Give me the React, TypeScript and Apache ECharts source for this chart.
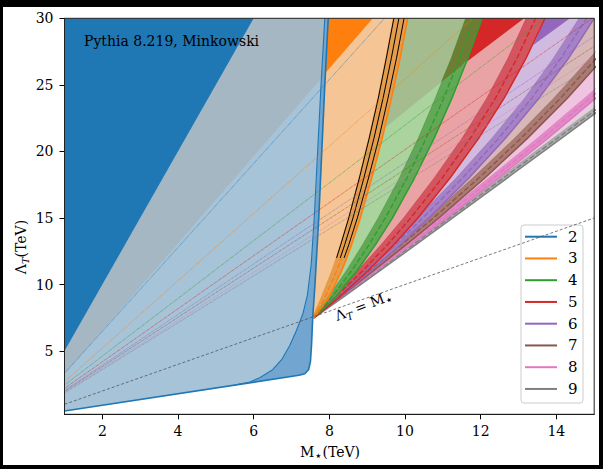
import React, { useEffect, useRef } from "react";
import * as echarts from "echarts";

const F = "'DejaVu Serif', serif";

// ---- labels / ticks ----
const N_LABELS = ["2", "3", "4", "5", "6", "7", "8", "9"];
const TAB = ["#1f77b4", "#ff7f0e", "#2ca02c", "#d62728", "#9467bd", "#8c564b", "#e377c2", "#7f7f7f"];
const X_TICKS = [2, 4, 6, 8, 10, 12, 14];
const Y_TICKS = [5, 10, 15, 20, 25, 30];

// ---- n = 2 region (M*, Lambda_T) ----
const N2_BOTTOM = [[1, 0.5], [5.5, 2.45], [7.2, 3.18]];
const N2_INNER = [[5.5, 2.45], [5.9, 2.68], [6.16, 3.0], [6.5, 3.6], [6.75, 4.4], [6.95, 5.4], [7.13, 6.55], [7.3, 7.8], [7.42, 9.2], [7.52, 11.5], [7.6, 15], [7.69, 20], [7.78, 25], [7.88, 30]];
const N2_OUTER = [[7.2, 3.18], [7.35, 3.3], [7.45, 3.6], [7.5, 4.2], [7.53, 5.5], [7.56, 7.5], [7.62, 10], [7.72, 15], [7.8, 20], [7.88, 25], [7.97, 30]];
const N2_TOP_LEFT = [[1, 5], [1, 30], [6, 30]];
const N2_WEDGE = [[1, 5], [6, 30], [7.9, 30], [7.85, 25.7], [1, 3.27]];

// ---- saturated / overlap patches ----
const N3_TRIANGLE = [[7.9, 25.9], [7.96, 30], [9.15, 30]];
const N4_UPPER = [[9.48, 21.8], [9.64, 24], [9.87, 27], [10.07, 30], [11.6, 30], [11.22, 27], [10.95, 25.2]];
const N4_BAND_UPPER = [[10.95, 25.2], [11.22, 27], [11.6, 30], [12.04, 30], [11.66, 27], [11.5, 26.45]];
const N5_TRIANGLE = [[11.5, 26.45], [11.66, 27], [12.04, 30], [13.15, 30]];
const N6_TRIANGLE = [[13.39, 28], [13.7, 30], [14.36, 30]];

// ---- bands n = 3..9: Lambda levels, central M*, half width ----
const LAM_N3 = [7.5, 9, 11, 12, 13, 15, 18, 21, 24, 27, 30];
const MID_N3 = [7.57, 7.88, 8.19, 8.32, 8.44, 8.66, 8.95, 9.22, 9.46, 9.68, 9.88];
const HW_N3 = [0.02, 0.1, 0.13, 0.14, 0.15, 0.16, 0.17, 0.18, 0.18, 0.19, 0.19];

const LAM_N4 = [7.5, 9, 11, 13, 15, 18, 21, 24, 27, 30];
const MID_N4 = [7.57, 8.05, 8.58, 9.05, 9.48, 10.05, 10.56, 11.02, 11.44, 11.82];
const HW_N4 = [0.02, 0.1, 0.14, 0.17, 0.19, 0.2, 0.21, 0.22, 0.22, 0.22];

const LAM_N5 = [7.5, 9, 11, 13, 15, 18, 21, 24, 27, 30];
const MID_N5 = [7.57, 8.14, 8.87, 9.54, 10.15, 10.98, 11.73, 12.39, 12.96, 13.45];
const HW_N5 = [0.02, 0.1, 0.14, 0.17, 0.19, 0.21, 0.22, 0.23, 0.24, 0.25];

const LAM_N6 = [7.5, 9, 11, 13, 15, 18, 21, 24, 27, 30];
const MID_N6 = [7.57, 8.17, 8.96, 9.74, 10.47, 11.52, 12.48, 13.35, 14.12, 14.8];
const HW_N6 = [0.02, 0.08, 0.12, 0.14, 0.16, 0.17, 0.18, 0.19, 0.2, 0.2];

const LAM_N7 = [7.5, 9, 11, 13, 15, 18, 21, 24, 27, 28];
const MID_N7 = [7.57, 8.19, 9.05, 9.91, 10.75, 11.95, 13.07, 14.11, 15.06, 15.38];
const HW_N7 = [0.02, 0.07, 0.1, 0.12, 0.14, 0.16, 0.17, 0.18, 0.18, 0.18];

const LAM_N8 = [7.5, 9, 11, 13, 15, 18, 21, 24, 26];
const MID_N8 = [7.57, 8.21, 9.13, 10.06, 10.99, 12.34, 13.64, 14.89, 15.7];
const HW_N8 = [0.02, 0.06, 0.09, 0.1, 0.12, 0.13, 0.14, 0.15, 0.15];

const LAM_N9 = [7.5, 9, 11, 13, 15, 18, 21, 24];
const MID_N9 = [7.57, 8.29, 9.25, 10.21, 11.17, 12.6, 14.03, 15.46];
const HW_N9 = [0.02, 0.05, 0.07, 0.08, 0.09, 0.1, 0.11, 0.11];

// ---- dotted reference lines (Lambda at M*=1, end point) ----
const DOT_START = [3.33, 2.7, 2.45, 2.2, 2.05, 1.98, 1.9, 1.85];
const DOT_END = [[9.46, 30], [11.8, 30], [13.7, 30], [14.95, 30], [15, 28.65], [15, 27.9], [15, 27.1], [15, 26.5]];
const DIAGONAL = [[1, 1], [15, 15]];

// ---- styles ----
const BAND_FILL = ["#e39d4c", "#62a857", "#d25560", "#a583c6", "#aa7b73", "#e08ac6", "#adadad"];
const LIGHT_FILL = ["#f5c595", "#aad39d", "#eaa3a5", "#d1badf", "#d7b8b6", "#efc4e0", "#e3d0dc"];

const BANDS = [
  { lam: LAM_N3, mid: MID_N3, hw: HW_N3 },
  { lam: LAM_N4, mid: MID_N4, hw: HW_N4 },
  { lam: LAM_N5, mid: MID_N5, hw: HW_N5 },
  { lam: LAM_N6, mid: MID_N6, hw: HW_N6 },
  { lam: LAM_N7, mid: MID_N7, hw: HW_N7 },
  { lam: LAM_N8, mid: MID_N8, hw: HW_N8 },
  { lam: LAM_N9, mid: MID_N9, hw: HW_N9 },
];

type Pt = number[];
type Band = { lam: number[]; mid: number[]; hw: number[] };

const edge = (b: Band, k: number): Pt[] => b.lam.map((l, i) => [b.mid[i] + k * b.hw[i], l]);

function poly(pts: Pt[], fill: string) {
  return {
    type: "custom",
    coordinateSystem: "cartesian2d",
    silent: true,
    clip: true,
    data: [[pts[0][0], pts[0][1]]],
    renderItem: (_p: any, api: any) => ({
      type: "polygon",
      shape: { points: pts.map((p) => api.coord(p)) },
      style: { fill, stroke: "none" },
    }),
  };
}

function line(pts: Pt[], color: string, width: number, type: any = "solid", opacity = 1) {
  return {
    type: "line",
    data: pts,
    symbol: "none",
    showSymbol: false,
    silent: true,
    clip: true,
    lineStyle: { color, width, type, opacity },
  };
}

function buildOption() {
  const series: any[] = [];
  const n2Upper = N2_OUTER.filter((p) => p[1] >= 7.5);

  // n = 2 light region, wedge, top-left
  series.push(poly([N2_BOTTOM[0], ...N2_INNER, [1, 30]], "#a6c3d8"));
  series.push(poly(N2_WEDGE, "#a5b7c2"));
  series.push(poly(N2_TOP_LEFT, TAB[0]));

  // light regions n = 9 .. 3
  for (let k = BANDS.length - 1; k >= 0; k--) {
    const le = edge(BANDS[k], -1);
    const last = le[le.length - 1];
    const pts: Pt[] = [...n2Upper];
    if (last[1] < 30) pts.push([16, 30], [16, last[1]]);
    pts.push(...le.slice().reverse());
    series.push(poly(pts, LIGHT_FILL[k]));
  }

  // saturated patches
  series.push(poly(N3_TRIANGLE, TAB[1]));
  series.push(poly(N4_UPPER, "#a4bc8e"));
  series.push(poly(N5_TRIANGLE, TAB[3]));
  series.push(poly(N6_TRIANGLE, TAB[4]));

  // bands n = 9 .. 3
  for (let k = BANDS.length - 1; k >= 0; k--) {
    const b = BANDS[k];
    series.push(poly([...edge(b, -1), ...edge(b, 1).reverse()], BAND_FILL[k]));
  }
  series.push(poly(N4_BAND_UPPER, "#6f7c33"));

  // n = 2 band
  series.push(poly([...N2_INNER, ...N2_OUTER.slice().reverse()], "#72a5cf"));

  // band lines
  for (let k = BANDS.length - 1; k >= 0; k--) {
    const b = BANDS[k];
    const col = TAB[k + 1];
    series.push(line(edge(b, 1), col, 1.5));
    series.push(line(edge(b, -1), col, 0.6, "solid", 0.7));
    const mid = edge(b, 0);
    series.push(line(k === 0 ? mid.slice(0, 4) : mid, col, 1.4, [5.5, 2.4]));
  }
  // n = 3 black contour lines
  [-0.92, -0.22, 0.5].forEach((f) => {
    series.push(line(edge(BANDS[0], f).slice(3), "#000", 1));
  });

  // n = 2 outline
  series.push(line([N2_BOTTOM[0], ...N2_OUTER], TAB[0], 1.6));
  series.push(line(N2_INNER, TAB[0], 1.1));

  // dotted lines
  DOT_START.forEach((y0, i) => {
    series.push(line([[1, y0], DOT_END[i]], TAB[i], 0.8, "dotted", 0.95));
  });
  series.push(line(DIAGONAL, "#555", 0.8, [3, 2]));

  const axisText = { fontFamily: F, fontSize: 14, color: "#000" };

  const legendEls: any[] = [];
  N_LABELS.forEach((lab, i) => {
    const y = 236.7 + i * 21.75;
    legendEls.push({ type: "line", shape: { x1: 525, y1: y, x2: 557, y2: y }, style: { stroke: TAB[i], lineWidth: 2 } });
    legendEls.push({ type: "text", x: 568, y, style: { text: lab, fontSize: 15, fontFamily: F, fill: "#000", verticalAlign: "middle" } });
  });

  const richA = { fontSize: 14, fontFamily: F, fill: "#000", verticalAlign: "top", lineHeight: 16 };
  const richT = { fontSize: 10, fontFamily: F, fontStyle: "italic", fill: "#000", verticalAlign: "bottom", lineHeight: 16 };
  const richS = { fontSize: 13, fontFamily: "'DejaVu Sans', sans-serif", fill: "#000", verticalAlign: "bottom", lineHeight: 17 };

  return {
    animation: false,
    grid: { left: 64.5, top: 18.3, width: 529.7, height: 396, containLabel: false },
    xAxis: {
      type: "value",
      min: 1,
      max: 15,
      axisLine: { show: true, onZero: false, lineStyle: { color: "#000", width: 1 } },
      axisTick: { show: true, customValues: X_TICKS, length: 5, lineStyle: { color: "#000", width: 1 } },
      axisLabel: { customValues: X_TICKS, margin: 10, ...axisText },
      splitLine: { show: false },
    },
    yAxis: {
      type: "value",
      min: 0.25,
      max: 30,
      axisLine: { show: true, onZero: false, lineStyle: { color: "#000", width: 1 } },
      axisTick: { show: true, customValues: Y_TICKS, length: 5, lineStyle: { color: "#000", width: 1 } },
      axisLabel: { customValues: Y_TICKS, margin: 11, ...axisText },
      splitLine: { show: false },
    },
    series,
    graphic: [
      {
        type: "rect",
        z: 50,
        silent: true,
        shape: { x: 64.5, y: 18.3, width: 529.7, height: 396 },
        style: { fill: "none", stroke: "#222", lineWidth: 1 },
      },
      {
        type: "text",
        z: 60,
        x: 84,
        y: 40.5,
        style: { text: "Pythia 8.219, Minkowski", fontSize: 14, fontFamily: F, fill: "#000", verticalAlign: "middle" },
      },
      {
        type: "text",
        z: 60,
        x: 364,
        y: 307,
        rotation: (21 * Math.PI) / 180,
        style: {
          text: "{a|Λ}{t|T}{a| = M}{s|⋆}",
          align: "center",
          verticalAlign: "middle",
          rich: { a: richA, t: richT, s: richS },
        },
      },
      {
        type: "text",
        z: 60,
        x: 330,
        y: 453,
        style: {
          text: "{a|M}{s|⋆}{a|(TeV)}",
          align: "center",
          verticalAlign: "middle",
          rich: { a: richA, s: richS },
        },
      },
      {
        type: "text",
        z: 60,
        x: 22,
        y: 247,
        rotation: Math.PI / 2,
        style: {
          text: "{a|Λ}{t|T}{a|(TeV)}",
          align: "center",
          verticalAlign: "middle",
          rich: { a: richA, t: richT },
        },
      },
      {
        type: "group",
        z: 100,
        children: [
          {
            type: "rect",
            shape: { x: 521, y: 225, width: 62, height: 178, r: 3 },
            style: { fill: "rgba(255,255,255,0.85)", stroke: "#cccccc", lineWidth: 1 },
          },
          ...legendEls,
        ],
      },
    ],
  };
}

export default function App() {
  const ref = useRef<HTMLDivElement>(null);
  useEffect(() => {
    const chart = echarts.init(ref.current!, null, { renderer: "svg" });
    chart.setOption(buildOption() as any);
    return () => chart.dispose();
  }, []);
  return (
    <div style={{ position: "fixed", left: 0, top: 0, width: 603, height: 469, background: "#000" }}>
      <div style={{ position: "absolute", left: 3, top: 7, width: 596, height: 458, background: "#fff" }} />
      <div ref={ref} style={{ position: "absolute", left: 0, top: 0, width: 603, height: 469 }} />
    </div>
  );
}
